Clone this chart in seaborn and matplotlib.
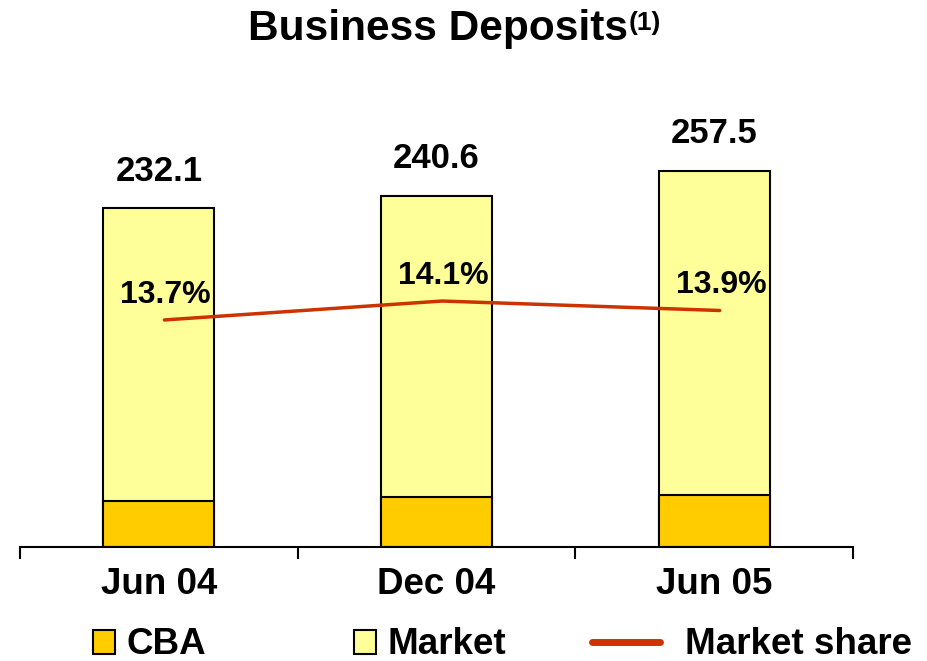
import numpy as np
import matplotlib
matplotlib.use("Agg")
import matplotlib.pyplot as plt
import seaborn as sns
from matplotlib.patches import Patch
from matplotlib.lines import Line2D
from matplotlib.ticker import FixedLocator

categories = ["Jun 04", "Dec 04", "Jun 05"]
totals = [232.1, 240.6, 257.5]
cba = [31.8, 33.9, 35.8]
share = [13.7, 14.1, 13.9]

sns.set_theme(style="white")
plt.rcParams["font.family"] = ["Liberation Sans", "DejaVu Sans"]
plt.rcParams["text.color"] = "black"
plt.rcParams["xtick.color"] = "black"
plt.rcParams["xtick.labelcolor"] = "black"

CBA_COL = "#FFCC00"
MKT_COL = "#FFFF99"
LINE_COL = "#CC3300"

fig = plt.figure(figsize=(9.27, 6.61), dpi=100)
ax = fig.add_axes([20 / 927, 1 - 547 / 661, 833 / 927, 447 / 661])

sns.barplot(x=categories, y=totals, color=MKT_COL, saturation=1, edgecolor="black",
            linewidth=1.5, width=0.4, errorbar=None, ax=ax)
sns.barplot(x=categories, y=cba, color=CBA_COL, saturation=1, edgecolor="black",
            linewidth=1.5, width=0.4, errorbar=None, ax=ax)

ax.set_xlim(-0.5, 2.5)
ax.set_ylim(0, 306)
for s in ["top", "left", "right"]:
    ax.spines[s].set_visible(False)
ax.spines["bottom"].set_linewidth(1.5)
ax.spines["bottom"].set_color("black")
ax.set_yticks([])
ax.set_ylabel("")
ax.xaxis.set_minor_locator(FixedLocator([-0.5, 0.5, 1.5, 2.5]))
ax.tick_params(axis="x", which="major", length=0, pad=14.5, labelsize=26.5)
ax.tick_params(axis="x", which="minor", length=8.6, width=1.5, direction="out",
               color="black", bottom=True)
for lbl in ax.get_xticklabels():
    lbl.set_fontweight("bold")
    lbl.set_color("black")

for i, t in enumerate(totals):
    ax.annotate(f"{t:.1f}", (i, t), xytext=(0, 26.6), textcoords="offset points",
                ha="center", va="center", fontsize=25, fontweight="bold", color="black")

ax2 = ax.twinx()
sns.lineplot(x=np.arange(len(categories)) + 0.02, y=share, color=LINE_COL, linewidth=2.5, ax=ax2)
ax2.set_ylim(8.9, 18.35)
ax2.set_xlim(-0.5, 2.5)
for s in ["top", "left", "right", "bottom"]:
    ax2.spines[s].set_visible(False)
ax2.set_yticks([])
ax2.set_ylabel("")
for i, s in enumerate(share):
    ax2.annotate(f"{s:.1f}%", (i, s), xytext=(5, 18), textcoords="offset points",
                 ha="center", va="center", fontsize=23, fontweight="bold", color="black")

# Title
fig.text(438 / 927, 1 - 29 / 661, "Business Deposits", ha="center", va="center",
         fontsize=30.5, fontweight="bold", color="black")
fig.text(629 / 927, 1 - 23 / 661, "(1)", ha="left", va="center",
         fontsize=19, fontweight="bold", color="black")

# Legend
fs = 26.5
em = fs * 100 / 72
common = dict(frameon=False, borderpad=0, borderaxespad=0, loc="center left",
              prop={"size": fs, "weight": "bold"}, labelcolor="black")
fig.legend(handles=[Patch(facecolor=CBA_COL, edgecolor="black", linewidth=1.5, label="CBA")],
           bbox_to_anchor=(93 / 927, 1 - 645 / 661), handlelength=22 / em,
           handleheight=23 / em, handletextpad=12 / em, **common)
fig.legend(handles=[Patch(facecolor=MKT_COL, edgecolor="black", linewidth=1.5, label="Market")],
           bbox_to_anchor=(354 / 927, 1 - 645 / 661), handlelength=22 / em,
           handleheight=23 / em, handletextpad=12 / em, **common)
fig.legend(handles=[Line2D([0], [0], color=LINE_COL, linewidth=5, label="Market share")],
           bbox_to_anchor=(592 / 927, 1 - 645 / 661), handlelength=68 / em,
           handletextpad=25 / em, **common)

fig.savefig("out.png", dpi=100, facecolor="white")
